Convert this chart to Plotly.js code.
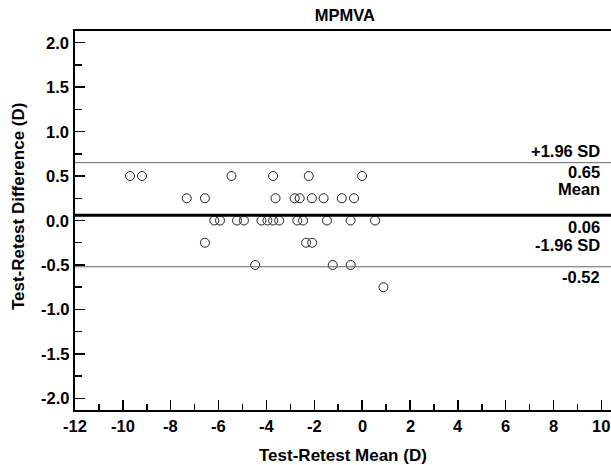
<!DOCTYPE html>
<html>
<head>
<meta charset="utf-8">
<script src="https://cdn.plot.ly/plotly-3.0.1.min.js"></script>
<style>
html,body{margin:0;padding:0;background:#fff;}
#chart{width:611px;height:465px;}
</style>
</head>
<body>
<div id="chart"></div>
<script>
// Test-retest mean (x) and difference (y)
var meanVals = [-9.70, -9.20, -5.46, -3.72, -2.23, 0.00,
                -7.33, -6.57, -3.62, -2.82, -2.61, -2.10, -1.61, -0.85, -0.34,
                -6.18, -5.94, -5.23, -4.94, -4.21, -3.96, -3.72, -3.47, -2.71, -2.47, -1.47, -0.48, 0.54,
                -6.57, -2.34, -2.09,
                -4.47, -1.23, -0.48,
                0.89];
var diffVals = [0.5, 0.5, 0.5, 0.5, 0.5, 0.5,
                0.25, 0.25, 0.25, 0.25, 0.25, 0.25, 0.25, 0.25, 0.25,
                0, 0, 0, 0, 0, 0, 0, 0, 0, 0, 0, 0, 0,
                -0.25, -0.25, -0.25,
                -0.5, -0.5, -0.5,
                -0.75];
// Reference lines: upper limit, mean, lower limit
var refNames  = ['+1.96 SD', 'Mean', '-1.96 SD'];
var refValues = [0.65, 0.06, -0.52];
var refLabels = ['0.65', '0.06', '-0.52'];
// Tick labels
var xTickVals = [-12, -10, -8, -6, -4, -2, 0, 2, 4, 6, 8, 10];
var xTickText = ['-12', '-10', '-8', '-6', '-4', '-2', '0', '2', '4', '6', '8', '10'];
var yTickVals = [-2, -1.5, -1, -0.5, 0, 0.5, 1, 1.5, 2];
var yTickText = ['-2.0', '-1.5', '-1.0', '-0.5', '0.0', '0.5', '1.0', '1.5', '2.0'];
var titleText = 'MPMVA';
var xTitleText = 'Test-Retest Mean (D)';
var yTitleText = 'Test-Retest Difference (D)';

var FONT = 'Liberation Sans, Arial, sans-serif';
var fnt = function (s) { return {family: FONT, size: s, color: '#000'}; };
var b = function (t) { return '<b>' + t + '</b>'; };

var trace = {
  x: meanVals, y: diffVals, type: 'scatter', mode: 'markers',
  marker: {symbol: 'circle-open', size: 9, color: '#222', line: {width: 1, color: '#222'}},
  hoverinfo: 'x+y', showlegend: false
};

var shapes = [];
var annotations = [];
var aboveShift = [12, 26, 21.5];
var belowShift = [-9.5, -11.5, -10.5];
for (var i = 0; i < refValues.length; i++) {
  var isMean = refNames[i] === 'Mean';
  shapes.push({
    type: 'line', xref: 'paper', x0: 0, x1: 1, yref: 'y', y0: refValues[i], y1: refValues[i],
    line: {color: isMean ? '#000' : '#666', width: isMean ? 3 : 1}
  });
  annotations.push({
    xref: 'paper', x: 1, xanchor: 'right', xshift: -10, yref: 'y', y: refValues[i],
    yanchor: 'middle', yshift: aboveShift[i], text: b(refNames[i]), showarrow: false,
    font: fnt(16.5), borderpad: 0
  });
  annotations.push({
    xref: 'paper', x: 1, xanchor: 'right', xshift: -10, yref: 'y', y: refValues[i],
    yanchor: 'middle', yshift: belowShift[i], text: b(refLabels[i]), showarrow: false,
    font: fnt(16.5), borderpad: 0
  });
}
// Bold tick labels, placed through the axes' scales
for (var j = 0; j < xTickVals.length; j++) {
  annotations.push({
    xref: 'x', x: xTickVals[j], xanchor: 'center', yref: 'paper', y: 0, yanchor: 'top', yshift: -6,
    text: b(xTickText[j]), showarrow: false, font: fnt(16.5), borderpad: 0
  });
}
for (var k = 0; k < yTickVals.length; k++) {
  annotations.push({
    xref: 'paper', x: 0, xanchor: 'right', xshift: -5, yref: 'y', y: yTickVals[k], yanchor: 'middle',
    text: b(yTickText[k]), showarrow: false, font: fnt(16.5), borderpad: 0
  });
}
// Axis titles
annotations.push({
  xref: 'paper', x: 0.5, xanchor: 'center', yref: 'paper', y: 0, yanchor: 'middle', yshift: -45,
  text: b(xTitleText), showarrow: false, font: fnt(17), borderpad: 0
});
annotations.push({
  xref: 'paper', x: 0, xanchor: 'center', xshift: -57, yref: 'paper', y: 0.538, yanchor: 'middle',
  textangle: -90, text: b(yTitleText), showarrow: false, font: fnt(17), borderpad: 0
});

var layout = {
  width: 611, height: 465,
  margin: {l: 75, r: 0, t: 31, b: 55, pad: 0},
  paper_bgcolor: '#fff', plot_bgcolor: '#fff',
  font: {family: FONT, size: 16, color: '#000'},
  title: {text: b(titleText), font: fnt(16.5),
          x: 0.5645, xanchor: 'center', y: 0.968, yanchor: 'middle'},
  xaxis: {
    range: [-12, 10.4], tickmode: 'array', tickvals: xTickVals, showticklabels: false,
    ticks: 'inside', ticklen: 10, tickwidth: 1.5, tickcolor: '#000',
    minor: {tickmode: 'linear', tick0: 0, dtick: 1, ticks: 'inside', ticklen: 6, tickwidth: 1.5, tickcolor: '#000', showgrid: false},
    showline: true, linecolor: '#000', linewidth: 2, mirror: true,
    showgrid: false, zeroline: false
  },
  yaxis: {
    range: [-2.13, 2.13], tickmode: 'array', tickvals: yTickVals, showticklabels: false,
    ticks: 'inside', ticklen: 10, tickwidth: 1.5, tickcolor: '#000',
    minor: {tickmode: 'linear', tick0: 0, dtick: 0.25, ticks: 'inside', ticklen: 7, tickwidth: 1.5, tickcolor: '#000', showgrid: false},
    showline: true, linecolor: '#000', linewidth: 2,
    showgrid: false, zeroline: false
  },
  shapes: shapes,
  annotations: annotations
};

Plotly.newPlot('chart', [trace], layout, {displayModeBar: false, staticPlot: true});
</script>
</body>
</html>
